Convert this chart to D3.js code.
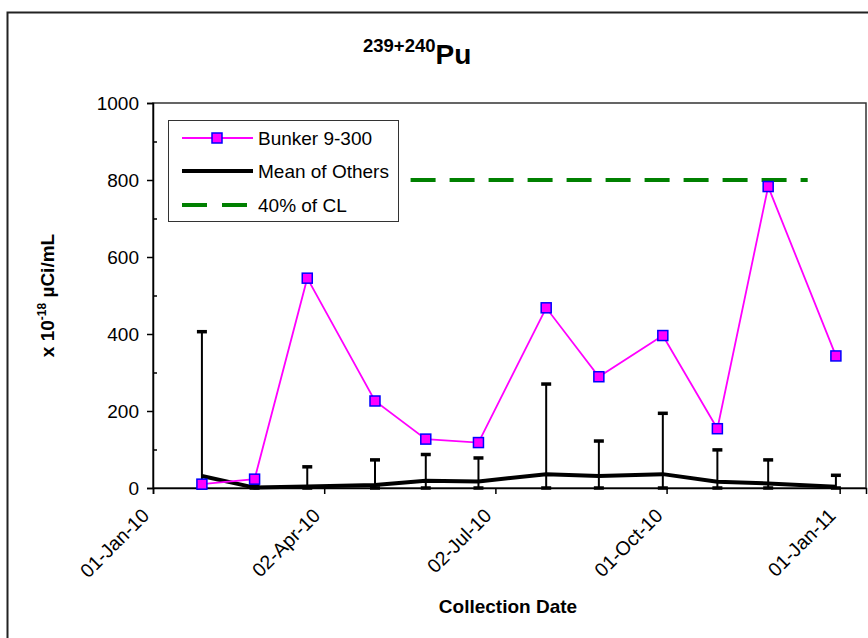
<!DOCTYPE html>
<html>
<head>
<meta charset="utf-8">
<script src="https://cdn.jsdelivr.net/npm/d3@7"></script>
<style>
  body { margin: 0; background: #fff; }
  svg text { font-family: "Liberation Sans", Arial, sans-serif; fill: #000; }
</style>
</head>
<body>
<div id="chart"></div>
<script>
// sample dates (2010) and values
const dates = ["2010-01-27", "2010-02-24", "2010-03-24", "2010-04-29", "2010-05-26", "2010-06-23",
               "2010-07-29", "2010-08-26", "2010-09-29", "2010-10-28", "2010-11-24", "2010-12-30"];
const bunker = [10, 23, 545, 226, 127, 118, 468, 289, 396, 154, 783, 343];
const meanOthers = [31, 1, 4, 8, 19, 17, 36, 31, 36, 16, 12, 3];
const meanErr = [375, 5, 51, 65, 68, 61, 234, 91, 158, 83, 61, 30];
const clDates = ["2010-02-24", "2010-12-15"];
const clValues = [800, 800];
const xTickDates = ["2010-01-01", "2010-04-02", "2010-07-02", "2010-10-01", "2011-01-01"];
const yTicks = [0, 200, 400, 600, 800, 1000];
const legendLabels = ["Bunker 9-300", "Mean of Others", "40% of CL"];

const width = 868, height = 638;
const parse = d3.utcParse("%Y-%m-%d");
const fmt = d3.utcFormat("%d-%b-%y");

const svg = d3.select("#chart").append("svg")
  .attr("width", width).attr("height", height);

// chart area border
svg.append("rect")
  .attr("x", 7.5).attr("y", 12.5).attr("width", 900).attr("height", 700)
  .attr("fill", "none").attr("stroke", "#222").attr("stroke-width", 2);

const pLeft = 153, pRight = 866, pTop = 103, pBottom = 488;
const x = d3.scaleUtc().domain([parse("2010-01-01"), parse("2011-01-15")]).range([pLeft, pRight]);
const y = d3.scaleLinear().domain([0, 1000]).range([pBottom, pTop]);

// plot area border
svg.append("rect")
  .attr("x", pLeft).attr("y", pTop).attr("width", pRight - pLeft).attr("height", pBottom - pTop)
  .attr("fill", "none").attr("stroke", "#333").attr("stroke-width", 1.5);

// title
const title = svg.append("text").attr("x", 363).attr("y", 64)
  .style("font-weight", "bold");
title.append("tspan").attr("font-size", 18.5).attr("dy", -12).text("239+240");
title.append("tspan").attr("font-size", 28).attr("dy", 12).text("Pu");

// y axis
const yAxis = svg.append("g").attr("transform", `translate(${pLeft},0)`)
  .call(d3.axisLeft(y).tickValues(yTicks).tickSize(6).tickPadding(8).tickFormat(d3.format("d")));
yAxis.selectAll("text").attr("font-size", 19);
svg.append("g").attr("transform", `translate(${pLeft},0)`)
  .call(d3.axisRight(y).tickValues(d3.range(100, 1000, 200)).tickSize(4).tickFormat(""))
  .select(".domain").remove();

// x axis
const xAxis = svg.append("g").attr("transform", `translate(0,${pBottom})`)
  .call(d3.axisBottom(x).tickValues(xTickDates.map(parse)).tickSize(6).tickFormat(fmt));
xAxis.selectAll("text")
  .attr("font-size", 19.5)
  .attr("text-anchor", "end")
  .attr("transform", "translate(-8,24) rotate(-45)")
  .attr("dy", "0.35em").attr("y", 0).attr("x", 0);

svg.selectAll(".domain").attr("stroke", "#000").attr("stroke-width", 1.5);
svg.selectAll(".tick line").attr("stroke", "#000").attr("stroke-width", 1.5);

// axis titles
svg.append("text")
  .attr("transform", `translate(54,${(pTop + pBottom) / 2}) rotate(-90)`)
  .attr("text-anchor", "middle").style("font-weight", "bold").attr("font-size", 19)
  .call(t => {
    t.append("tspan").text("x 10");
    t.append("tspan").attr("font-size", 12).attr("dy", -8).text("-18");
    t.append("tspan").attr("dy", 8).text(" µCi/mL");
  });
svg.append("text").attr("x", 508).attr("y", 613)
  .attr("text-anchor", "middle").style("font-weight", "bold").attr("font-size", 19)
  .text("Collection Date");

// error bars for mean of others
const errG = svg.append("g");
dates.forEach((d, i) => {
  const cx = x(parse(d));
  const hi = meanOthers[i] + meanErr[i];
  const lo = Math.max(0, meanOthers[i] - meanErr[i]);
  errG.append("line").attr("x1", cx).attr("x2", cx).attr("y1", y(lo)).attr("y2", y(hi))
    .attr("stroke", "#000").attr("stroke-width", 2);
  [lo, hi].forEach(v => {
    errG.append("line").attr("x1", cx - 5).attr("x2", cx + 5).attr("y1", y(v)).attr("y2", y(v))
      .attr("stroke", "#000").attr("stroke-width", 3.5);
  });
});

// 40% CL line
svg.append("path")
  .attr("d", d3.line().x((d, i) => x(parse(clDates[i]))).y(d => y(d))(clValues))
  .attr("fill", "none").attr("stroke", "#008000").attr("stroke-width", 4)
  .attr("stroke-dasharray", "25,14");

// mean of others line
svg.append("path")
  .attr("d", d3.line().x((d, i) => x(parse(dates[i]))).y(d => y(d))(meanOthers))
  .attr("fill", "none").attr("stroke", "#000").attr("stroke-width", 4);

// bunker line + markers
svg.append("path")
  .attr("d", d3.line().x((d, i) => x(parse(dates[i]))).y(d => y(d))(bunker))
  .attr("fill", "none").attr("stroke", "#ff00ff").attr("stroke-width", 1.8);
svg.append("g").selectAll("rect")
  .data(bunker)
  .join("rect")
  .attr("x", (d, i) => x(parse(dates[i])) - 5)
  .attr("y", d => y(d) - 5)
  .attr("width", 10).attr("height", 10)
  .attr("fill", "#ff00ff").attr("stroke", "#0000ff").attr("stroke-width", 1.5);

// legend
const lg = svg.append("g");
lg.append("rect").attr("x", 168.5).attr("y", 120.5).attr("width", 230).attr("height", 101)
  .attr("fill", "#fff").attr("stroke", "#333").attr("stroke-width", 1);
const rows = [138, 171, 205];
lg.append("line").attr("x1", 182).attr("x2", 253).attr("y1", rows[0]).attr("y2", rows[0])
  .attr("stroke", "#ff00ff").attr("stroke-width", 1.8);
lg.append("rect").attr("x", 212).attr("y", rows[0] - 5).attr("width", 10).attr("height", 10)
  .attr("fill", "#ff00ff").attr("stroke", "#0000ff").attr("stroke-width", 1.5);
lg.append("line").attr("x1", 182).attr("x2", 253).attr("y1", rows[1]).attr("y2", rows[1])
  .attr("stroke", "#000").attr("stroke-width", 4);
lg.append("line").attr("x1", 182).attr("x2", 253).attr("y1", rows[2]).attr("y2", rows[2])
  .attr("stroke", "#008000").attr("stroke-width", 4).attr("stroke-dasharray", "25,15");
lg.selectAll("text.lab").data(legendLabels).join("text").attr("class", "lab")
  .attr("x", 258).attr("y", (d, i) => rows[i] + 7)
  .attr("font-size", 19).text(d => d);
</script>
</body>
</html>
